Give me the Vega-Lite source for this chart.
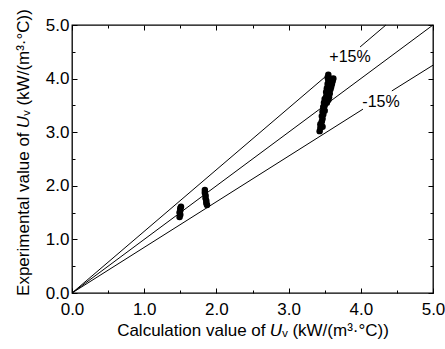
{
  "$schema": "https://vega.github.io/schema/vega-lite/v6.json",
  "width": 361,
  "height": 268,
  "autosize": "none",
  "padding": {"left": 72, "top": 25, "right": 12, "bottom": 56},
  "background": "white",
  "config": {
    "font": "Liberation Sans",
    "view": {"stroke": "black", "strokeWidth": 1.3},
    "axis": {
      "grid": false,
      "domain": false,
      "labelColor": "black",
      "labelFontSize": 17,
      "labelFlush": false,
      "labelOverlap": false,
      "tickColor": "black",
      "tickWidth": 1,
      "titleColor": "black",
      "titleFontSize": 17,
      "titleFontWeight": "normal"
    }
  },
  "datasets": {
    "lines": [
      {"seg": "diag", "x": 0, "y": 0}, {"seg": "diag", "x": 5, "y": 5},
      {"seg": "plusA", "x": 0, "y": 0}, {"seg": "plusA", "x": 3.5, "y": 4.025},
      {"seg": "plusB", "x": 3.99, "y": 4.59}, {"seg": "plusB", "x": 4.348, "y": 5.0},
      {"seg": "minusA", "x": 0, "y": 0}, {"seg": "minusA", "x": 4.03, "y": 3.43},
      {"seg": "minusB", "x": 4.43, "y": 3.77}, {"seg": "minusB", "x": 5, "y": 4.25}
    ],
    "points": [
      {"calc": 1.49, "exp": 1.42}, {"calc": 1.5, "exp": 1.46}, {"calc": 1.49, "exp": 1.5},
      {"calc": 1.5, "exp": 1.54}, {"calc": 1.5, "exp": 1.58}, {"calc": 1.51, "exp": 1.61},
      {"calc": 1.84, "exp": 1.92}, {"calc": 1.84, "exp": 1.87}, {"calc": 1.85, "exp": 1.82},
      {"calc": 1.85, "exp": 1.77}, {"calc": 1.86, "exp": 1.72}, {"calc": 1.86, "exp": 1.68},
      {"calc": 1.87, "exp": 1.64},
      {"calc": 3.43, "exp": 3.02}, {"calc": 3.44, "exp": 3.08}, {"calc": 3.45, "exp": 3.12},
      {"calc": 3.44, "exp": 3.15}, {"calc": 3.46, "exp": 3.2}, {"calc": 3.47, "exp": 3.25},
      {"calc": 3.46, "exp": 3.3}, {"calc": 3.48, "exp": 3.33}, {"calc": 3.47, "exp": 3.38},
      {"calc": 3.49, "exp": 3.42}, {"calc": 3.48, "exp": 3.47}, {"calc": 3.5, "exp": 3.5},
      {"calc": 3.49, "exp": 3.55}, {"calc": 3.51, "exp": 3.58}, {"calc": 3.5, "exp": 3.62},
      {"calc": 3.52, "exp": 3.66}, {"calc": 3.53, "exp": 3.7}, {"calc": 3.52, "exp": 3.75},
      {"calc": 3.54, "exp": 3.78}, {"calc": 3.53, "exp": 3.82}, {"calc": 3.55, "exp": 3.86},
      {"calc": 3.54, "exp": 3.9}, {"calc": 3.56, "exp": 3.93}, {"calc": 3.55, "exp": 3.97},
      {"calc": 3.54, "exp": 4.02}, {"calc": 3.55, "exp": 4.07}, {"calc": 3.57, "exp": 3.72},
      {"calc": 3.58, "exp": 3.8}, {"calc": 3.59, "exp": 3.85}, {"calc": 3.6, "exp": 3.9},
      {"calc": 3.61, "exp": 3.95}, {"calc": 3.62, "exp": 4.0}, {"calc": 3.58, "exp": 3.95},
      {"calc": 3.57, "exp": 4.0}, {"calc": 3.56, "exp": 3.65}, {"calc": 3.55, "exp": 3.6},
      {"calc": 3.53, "exp": 3.55}, {"calc": 3.5, "exp": 3.4}, {"calc": 3.47, "exp": 3.1}
    ],
    "labels": [
      {"x": 3.85, "y": 4.4, "t": "+15%"},
      {"x": 4.28, "y": 3.57, "t": "-15%"}
    ]
  },
  "layer": [
    {
      "data": {"name": "lines"},
      "mark": {"type": "line", "color": "black", "strokeWidth": 1},
      "encoding": {
        "x": {
          "field": "x", "type": "quantitative",
          "scale": {"domain": [0, 5], "nice": false, "zero": false},
          "axis": {
            "orient": "bottom",
            "values": [0, 0.5, 1, 1.5, 2, 2.5, 3, 3.5, 4, 4.5, 5],
            "labelExpr": "datum.value % 1 === 0 ? format(datum.value, '.1f') : ''",
            "tickSize": {"condition": {"test": "datum.value % 1 === 0", "value": -5}, "value": -3},
            "labelPadding": 13,
            "titlePadding": 3,
            "title": "Calculation value of 𝘜ᵥ (kW/(m³·°C))"
          }
        },
        "y": {
          "field": "y", "type": "quantitative",
          "scale": {"domain": [0, 5], "nice": false, "zero": false},
          "axis": {
            "orient": "left",
            "values": [0, 0.5, 1, 1.5, 2, 2.5, 3, 3.5, 4, 4.5, 5],
            "labelExpr": "datum.value % 1 === 0 ? format(datum.value, '.1f') : ''",
            "tickSize": {"condition": {"test": "datum.value % 1 === 0", "value": -5}, "value": -3},
            "labelPadding": 8,
            "titlePadding": 13,
            "titleY": 127,
            "title": "Experimental value of 𝘜ᵥ (kW/(m³·°C))"
          }
        },
        "detail": {"field": "seg"}
      }
    },
    {
      "data": {"name": "points"},
      "mark": {"type": "circle", "color": "black", "opacity": 1, "size": 42},
      "encoding": {
        "x": {
          "field": "calc", "type": "quantitative",
          "axis": {
            "orient": "top",
            "values": [0, 0.5, 1, 1.5, 2, 2.5, 3, 3.5, 4, 4.5, 5],
            "labels": false,
            "title": null,
            "tickSize": {"condition": {"test": "datum.value % 1 === 0", "value": -5}, "value": -3}
          }
        },
        "y": {
          "field": "exp", "type": "quantitative",
          "axis": {
            "orient": "right",
            "values": [0, 0.5, 1, 1.5, 2, 2.5, 3, 3.5, 4, 4.5, 5],
            "labels": false,
            "title": null,
            "tickSize": {"condition": {"test": "datum.value % 1 === 0", "value": -5}, "value": -3}
          }
        }
      }
    },
    {
      "data": {"name": "labels"},
      "mark": {"type": "text", "fontSize": 16, "color": "black", "font": "Liberation Sans"},
      "encoding": {
        "x": {"field": "x", "type": "quantitative", "axis": null},
        "y": {"field": "y", "type": "quantitative", "axis": null},
        "text": {"field": "t"}
      }
    }
  ],
  "resolve": {"axis": {"x": "independent", "y": "independent"}}
}
